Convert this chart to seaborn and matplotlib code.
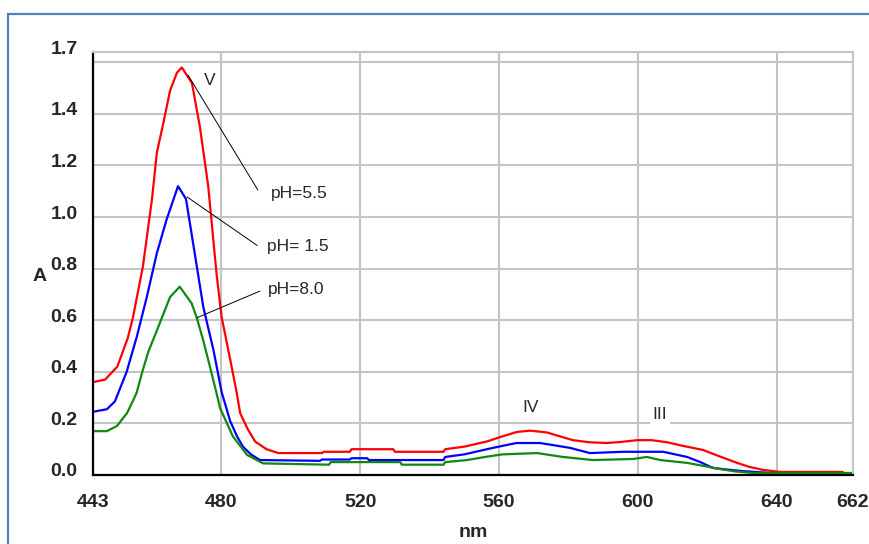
import numpy as np
import pandas as pd
import matplotlib
matplotlib.use('Agg')
import matplotlib.pyplot as plt
import matplotlib.transforms as mtransforms
from matplotlib.patches import Rectangle
import seaborn as sns

# Spectra (wavelength in nm, absorbance A)
red_nm = [443, 446.5, 450, 453, 454.5, 457.4, 460, 461.4, 463.2, 465.2, 467.2, 468.6,
          471.5, 473.8, 476.2, 478.6, 480.1, 482.5, 484.4, 485.4, 487.5, 489.7, 493, 496.4,
          509, 509.5, 517, 517.5, 529.5, 530, 544, 544.5, 550, 556.5, 561, 565.2, 569,
          573.8, 577, 581.3, 586, 591, 595, 599.8, 604, 608.4, 613, 618.8, 623, 628.6,
          632, 636, 641, 659]
red_a = [0.36, 0.37, 0.42, 0.53, 0.61, 0.81, 1.07, 1.25, 1.36, 1.49, 1.56, 1.58,
         1.52, 1.35, 1.12, 0.78, 0.61, 0.45, 0.32, 0.24, 0.18, 0.13, 0.10, 0.085,
         0.085, 0.09, 0.09, 0.10, 0.10, 0.09, 0.09, 0.10, 0.11, 0.13, 0.15, 0.167, 0.172,
         0.165, 0.152, 0.135, 0.127, 0.124, 0.128, 0.135, 0.135, 0.127, 0.113, 0.097, 0.075, 0.047,
         0.032, 0.02, 0.012, 0.012]

blue_nm = [443, 447, 449.3, 452.7, 455.6, 458.5, 461.4, 464.2, 467.5, 469.8, 472.9,
           474.8, 477.7, 480.1, 482.5, 484.5, 486.2, 488.5, 491.1, 508.4, 509, 517, 517.5,
           522, 522.5, 544, 544.5, 550, 556.5, 561, 565, 571.8, 576, 580.5, 586.2, 595.7,
           607.3, 614.2, 618, 621.7, 629.4, 638]
blue_a = [0.245, 0.255, 0.285, 0.40, 0.535, 0.69, 0.86, 0.99, 1.12, 1.07, 0.81,
          0.65, 0.485, 0.32, 0.21, 0.15, 0.11, 0.08, 0.058, 0.055, 0.06, 0.06, 0.065,
          0.065, 0.058, 0.058, 0.07, 0.08, 0.10, 0.113, 0.124, 0.124, 0.115, 0.105, 0.085, 0.09,
          0.09, 0.07, 0.05, 0.027, 0.016, 0.008]

green_nm = [443, 447, 449.9, 452.8, 454.6, 455.6, 457.2, 459, 461.4, 465.2, 468, 471.4,
            472.9, 474.8, 476.7, 478.6, 479.6, 483.3, 487.4, 492, 511, 511.5, 531.5, 532,
            544, 544.5, 550.8, 556, 561, 571, 578.4, 587, 598.6, 602.6, 606.4, 614.2,
            619, 623.7, 628, 633.2, 662]
green_a = [0.17, 0.17, 0.19, 0.24, 0.29, 0.32, 0.40, 0.48, 0.56, 0.69, 0.73, 0.666,
           0.61, 0.52, 0.42, 0.317, 0.26, 0.15, 0.078, 0.045, 0.04, 0.05, 0.05, 0.04,
           0.04, 0.05, 0.058, 0.07, 0.08, 0.085, 0.07, 0.058, 0.062, 0.07, 0.058, 0.047,
           0.035, 0.023, 0.014, 0.008, 0.008]

series_names = ['pH=5.5', 'pH= 1.5', 'pH=8.0']
series_colors = {'pH=5.5': '#ff0000', 'pH= 1.5': '#0000ff', 'pH=8.0': '#118811'}

x_ticks = [443, 480, 520, 560, 600, 640, 662]
y_ticks = [0.0, 0.2, 0.4, 0.6, 0.8, 1.0, 1.2, 1.4, 1.6, 1.64]
y_tick_labels = ['0.0', '0.2', '0.4', '0.6', '0.8', '1.0', '1.2', '1.4', '', '1.7']

df = pd.concat([
    pd.DataFrame({'nm': red_nm, 'A': red_a, 'series': series_names[0]}),
    pd.DataFrame({'nm': blue_nm, 'A': blue_a, 'series': series_names[1]}),
    pd.DataFrame({'nm': green_nm, 'A': green_a, 'series': series_names[2]}),
], ignore_index=True)

sns.set_style('white')
plt.rcParams['font.family'] = ['Liberation Sans', 'DejaVu Sans']

fig = plt.figure(figsize=(8.7, 5.44), dpi=100)
ax = fig.add_axes([93 / 870, 69 / 544, 760 / 870, 423 / 544])

sns.lineplot(data=df, x='nm', y='A', hue='series', palette=series_colors,
             estimator=None, sort=False, linewidth=1.6, legend=False, ax=ax)

ax.set_xlim(443, 662)
ax.set_ylim(0, 1.64)
ax.set_xticks(x_ticks)
ax.set_xticklabels([str(t) for t in x_ticks])
ax.set_yticks(y_ticks)
ax.set_yticklabels(y_tick_labels)

ax.grid(True, color='#c4c4c4', linewidth=1.5)
ax.set_axisbelow(True)
for side in ['left', 'bottom']:
    ax.spines[side].set_color('black')
    ax.spines[side].set_linewidth(1.6)
for side in ['top', 'right']:
    ax.spines[side].set_color('#c4c4c4')
    ax.spines[side].set_linewidth(1.5)

ax.tick_params(axis='both', direction='out', length=5, width=1.5, color='black',
               labelsize=14)
ax.tick_params(axis='y', pad=6)
ax.tick_params(axis='x', pad=9)
for lab in ax.get_xticklabels() + ax.get_yticklabels():
    lab.set_fontweight('bold')
shift = mtransforms.ScaledTranslation(0, 5 / 100, fig.dpi_scale_trans)
for lab in ax.get_yticklabels():
    lab.set_transform(lab.get_transform() + shift)

ax.set_xlabel('nm', fontsize=14, fontweight='bold', va='center')
ax.set_ylabel('A', fontsize=14, fontweight='bold', rotation=0, ha='center', va='center')
ax.xaxis.set_label_coords(0.5, -0.137)
ax.yaxis.set_label_coords(-0.07, 0.47)

# Leader lines and labels
ann = dict(fontsize=12.5, ha='left', va='center')
ax.plot([470.4, 490.5], [1.55, 1.105], color='black', linewidth=0.7)
ax.text(494.3, 1.093, 'pH=5.5', **ann)
ax.plot([470.1, 490.3], [1.078, 0.89], color='black', linewidth=0.7)
ax.text(493.1, 0.884, 'pH= 1.5', **ann)
ax.plot([473.0, 491.1], [0.61, 0.713], color='black', linewidth=0.7)
ax.text(493.4, 0.718, 'pH=8.0', **ann)

ax.text(476.7, 1.53, 'V', fontsize=12.5, ha='center', va='center')
ax.text(569.2, 0.26, 'IV', fontsize=12.5, ha='center', va='center')
ax.text(606.4, 0.233, 'III', fontsize=12.5, ha='center', va='center',
        bbox=dict(facecolor='white', edgecolor='none', pad=2))

# Blue frame around the chart
fig.patches.append(Rectangle((8 / 870, -0.1), 1.2, (544 - 14) / 544 + 0.1,
                             transform=fig.transFigure, fill=False,
                             edgecolor='#4f81bd', linewidth=1.6))

fig.savefig('out.png', dpi=100, facecolor='white')
